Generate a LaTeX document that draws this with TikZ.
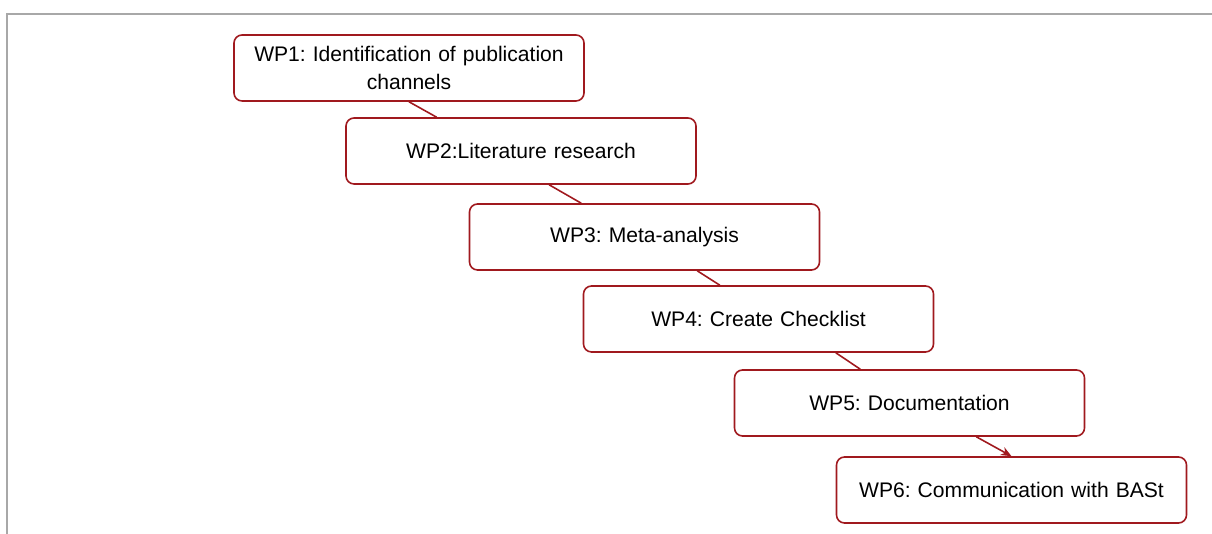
\documentclass[tikz,border=0pt]{standalone}
\usepackage{fontspec}
\setmainfont{Liberation Sans}
\usetikzlibrary{arrows.meta,calc}

\definecolor{wpred}{HTML}{A0191E}
\definecolor{framegray}{HTML}{A8A8A8}

\begin{document}
\frenchspacing
\begin{tikzpicture}[every node/.style={font=\fontsize{12}{16}\selectfont},
		wpbox/.style={draw=wpred, line width=0.9pt, rounded corners=0.16cm, fill=white,
			minimum width=7cm, minimum height=1.32cm, align=center, text width=6.6cm},
		link/.style={draw=wpred, line width=0.9pt}]
			\useasboundingbox (0,0) rectangle (24.24,10.68);
			% frame lines
			\draw[framegray, line width=1.3pt] (0.14,0) -- (0.14,10.4) -- (24.24,10.4);
			
			\node[wpbox] (wp1) at (8.18,9.32) {WP1: Identification of publication\\channels};
			\node[wpbox] (wp2) at (10.42,7.66) {WP2:Literature research};
			\node[wpbox] (wp3) at (12.89,5.94) {WP3: Meta-analysis};
			\node[wpbox] (wp4) at (15.17,4.30) {WP4: Create Checklist};
			\node[wpbox] (wp5) at (18.19,2.62) {WP5: Documentation};
			\node[wpbox] (wp6) at (20.23,0.88) {WP6: Communication with BASt};
			
			\draw[link] ($(wp1.south west)!0.50!(wp1.south east)$) -- ($(wp2.north west)!0.26!(wp2.north east)$);
			\draw[link] ($(wp2.south west)!0.58!(wp2.south east)$) -- ($(wp3.north west)!0.32!(wp3.north east)$);
			\draw[link] ($(wp3.south west)!0.65!(wp3.south east)$) -- ($(wp4.north west)!0.39!(wp4.north east)$);
			\draw[link] ($(wp4.south west)!0.72!(wp4.south east)$) -- ($(wp5.north west)!0.36!(wp5.north east)$);
			\draw[link, -{Stealth[length=6pt, width=5pt]}] ($(wp5.south west)!0.69!(wp5.south east)$) -- ($(wp6.north west)!0.50!(wp6.north east)$);
		\end{tikzpicture}
\end{document}
